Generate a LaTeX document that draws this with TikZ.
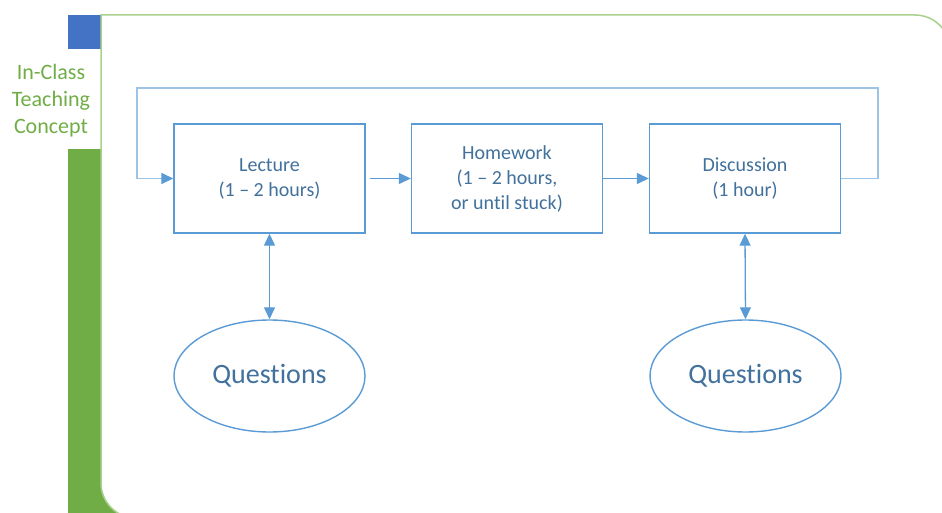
\documentclass[tikz,border=0pt]{standalone}
\usepackage{fontspec}
\setmainfont{Carlito}[Ligatures=NoCommon]
\usetikzlibrary{arrows.meta,shapes.geometric}

\definecolor{accentblue}{HTML}{4472C4}
\definecolor{accentgreen}{HTML}{70AD47}
\definecolor{panelgreen}{HTML}{A9D18E}
\definecolor{flowblue}{HTML}{5B9BD5}
\definecolor{loopblue}{HTML}{9DC3E6}
\definecolor{labelblue}{HTML}{41719C}

\tikzset{
  flowtip/.tip={Triangle[length=12pt,width=11pt,color=flowblue]},
  stepbox/.style={draw=flowblue, line width=1.4pt, rectangle,
    minimum width=191pt, minimum height=109pt, inner sep=0pt,
    align=center, text=labelblue, font=\fontsize{20}{25}\selectfont},
  qbubble/.style={draw=flowblue, line width=1.4pt, ellipse,
    minimum width=191pt, minimum height=112pt, inner sep=0pt,
    text=labelblue, font=\fontsize{28}{34}\selectfont},
  flow/.style={draw=flowblue, line width=1.3pt, -flowtip},
  twoway/.style={draw=flowblue, line width=1.3pt, flowtip-flowtip},
  loopline/.style={draw=loopblue, line width=1.5pt, -flowtip},
}

\begin{document}
\begin{tikzpicture}[x=1pt,y=-1pt]
  \useasboundingbox (0,0) rectangle (942,513);
  \clip (0,0) rectangle (942,513);

  % side markers
  \fill[accentblue] (68,15) rectangle (101,49);
  \fill[accentgreen] (68,149) rectangle (150,520);

  % content panel with rounded top-right and bottom-left corners
  \draw[panelgreen, line width=1.5pt, fill=white]
    (101,15) -- (915,15) arc[start angle=-90, end angle=0, radius=35]
    -- (950,518) -- (136,518) arc[start angle=90, end angle=180, radius=35]
    -- cycle;

  % side title
  \node[text=accentgreen, align=center, font=\fontsize{22}{27}\selectfont]
    (title) at (51,101) {In-Class\\Teaching\\Concept};

  % process steps
  \node[stepbox] (lect) at (269.5,178.5) {Lecture\\(1 – 2 hours)};
  \node[stepbox] (hw)   at (507,178.5)   {Homework\\(1 – 2 hours,\\or until stuck)};
  \node[stepbox] (disc) at (745,178.5)   {Discussion\\(1 hour)};

  % question bubbles
  \node[qbubble] (q1) at (269.5,376) {Questions};
  \node[qbubble] (q2) at (745.5,376) {Questions};

  % forward flow
  \draw[flow, shorten <=4pt] (lect) -- (hw);
  \draw[flow] (hw) -- (disc);

  % repeat loop
  \coordinate (loopR) at (878,88);
  \coordinate (loopL) at (137,88);
  \draw[loopline] (disc.east) -| (loopR) -- (loopL) |- (lect.west);

  % questions link
  \draw[twoway] (lect.south) -- (q1.north);
  \draw[twoway] (disc.south) -- (q2.north);
\end{tikzpicture}
\end{document}
